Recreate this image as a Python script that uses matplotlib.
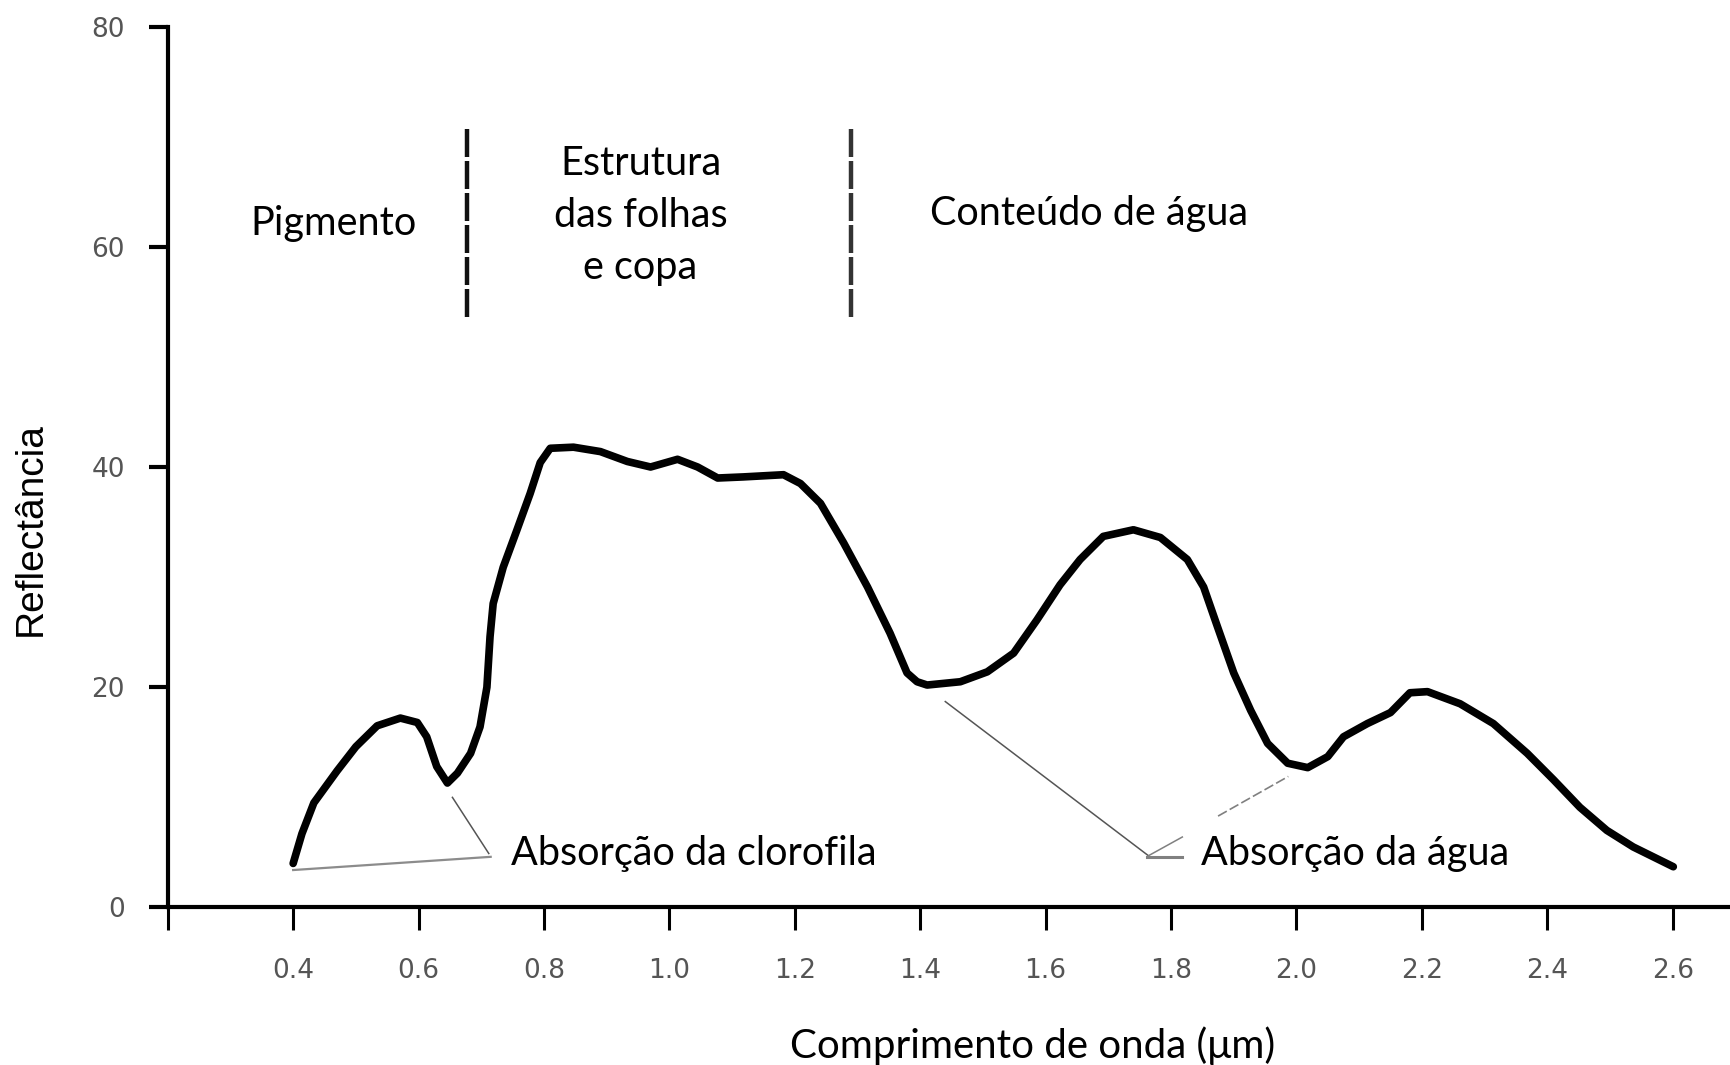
import numpy as np
import matplotlib.pyplot as plt

# Curva de reflectância espectral da vegetação
wavelength = [0.400, 0.414, 0.433, 0.470, 0.500, 0.534, 0.571, 0.598, 0.613, 0.629,
              0.646, 0.662, 0.683, 0.698, 0.709, 0.714, 0.719, 0.735, 0.757, 0.778,
              0.794, 0.810, 0.847, 0.890, 0.933, 0.970, 1.013, 1.045, 1.077, 1.118,
              1.182, 1.209, 1.241, 1.278, 1.316, 1.352, 1.379, 1.395, 1.411, 1.464,
              1.507, 1.549, 1.586, 1.623, 1.655, 1.692, 1.740, 1.783, 1.826, 1.852,
              1.874, 1.900, 1.927, 1.954, 1.986, 2.018, 2.050, 2.075, 2.113, 2.150,
              2.181, 2.209, 2.261, 2.314, 2.368, 2.410, 2.452, 2.495, 2.537, 2.601]
reflectance = [4.0, 6.7, 9.5, 12.4, 14.6, 16.5, 17.2, 16.8, 15.5, 12.8,
               11.3, 12.2, 14.0, 16.4, 20.0, 24.6, 27.6, 30.9, 34.3, 37.6,
               40.4, 41.7, 41.8, 41.4, 40.5, 40.0, 40.7, 40.0, 39.0, 39.1,
               39.3, 38.5, 36.7, 33.1, 29.1, 24.9, 21.3, 20.5, 20.2, 20.5,
               21.4, 23.1, 26.1, 29.3, 31.6, 33.7, 34.3, 33.6, 31.6, 29.1,
               25.5, 21.3, 17.9, 14.9, 13.1, 12.7, 13.7, 15.5, 16.7, 17.7,
               19.5, 19.6, 18.5, 16.7, 14.0, 11.6, 9.1, 7.0, 5.5, 3.7]

x_ticks = [0.2, 0.4, 0.6, 0.8, 1.0, 1.2, 1.4, 1.6, 1.8, 2.0, 2.2, 2.4, 2.6]
x_tick_labels = ['', '0.4', '0.6', '0.8', '1.0', '1.2', '1.4', '1.6', '1.8',
                 '2.0', '2.2', '2.4', '2.6']
y_ticks = [0, 20, 40, 60, 80]

region_names = ['Pigmento', 'Estrutura\ndas folhas\ne copa', 'Conteúdo de água']
region_limits = [0.678, 1.289]

label_font = ['Lato', 'DejaVu Sans']
fs = 28.5

fig = plt.figure(figsize=(17.31, 10.65), dpi=100)
ax = fig.add_axes([0.0969, 0.1479, 0.9031, 0.8272])

ax.plot(wavelength, reflectance, color='black', lw=5.5,
        solid_joinstyle='round', solid_capstyle='round')

# limites entre as regiões
for xb, c in zip(region_limits, ['#111111', '#333333']):
    ax.plot([xb, xb], [53.6, 70.9], color=c, lw=3.2,
            linestyle=(0, (6.3, 0.9)))

region_pos = [(0.464, 62.1), (0.954, 62.8), (1.669, 63.0)]
for name, (tx, ty) in zip(region_names, region_pos):
    ax.text(tx, ty, name, ha='center', va='center', fontsize=fs,
            family=label_font, linespacing=1.5)

# linhas de chamada
grey = '#808080'
ax.plot([0.400, 0.715], [3.4, 4.6], color='#8c8c8c', lw=1.6)
ax.plot([0.654, 0.712], [10.0, 4.9], color='#555555', lw=1.1)
ax.text(0.748, 4.9, 'Absorção da clorofila', ha='left', va='center',
        fontsize=fs, family=label_font)

ax.plot([1.440, 1.764], [18.7, 4.7], color='#555555', lw=1.1)
ax.plot([1.762, 1.818], [4.6, 4.6], color=grey, lw=2.2)
ax.plot([1.764, 1.818], [4.7, 6.4], color=grey, lw=1.1)
ax.plot([1.875, 1.987], [8.3, 11.9], color=grey, lw=1.2,
        linestyle=(0, (6, 2)))
ax.text(1.848, 4.9, 'Absorção da água', ha='left', va='center',
        fontsize=fs, family=label_font)

ax.set_xlim(0.2, 2.693)
ax.set_ylim(0, 80)
ax.set_xticks(x_ticks)
ax.set_xticklabels(x_tick_labels)
ax.set_yticks(y_ticks)

for side in ['top', 'right']:
    ax.spines[side].set_visible(False)
for side in ['left', 'bottom']:
    ax.spines[side].set_linewidth(3)
ax.spines['left'].set_bounds(0, 80)

ax.tick_params(axis='x', direction='out', length=16.5, width=2.2,
               pad=20, labelsize=19, labelcolor='#555555')
ax.tick_params(axis='y', direction='out', length=13.7, width=3,
               pad=17, labelsize=19, labelcolor='#555555')

ax.set_xlabel('Comprimento de onda (μm)', fontsize=29, family=label_font,
              va='center')
ax.xaxis.set_label_coords(0.553, -0.1564)
ax.set_ylabel('Reflectância', fontsize=28, family='Liberation Sans',
              va='center')
ax.yaxis.set_label_coords(-0.0876, 0.429)

fig.savefig('out.png', dpi=100)
